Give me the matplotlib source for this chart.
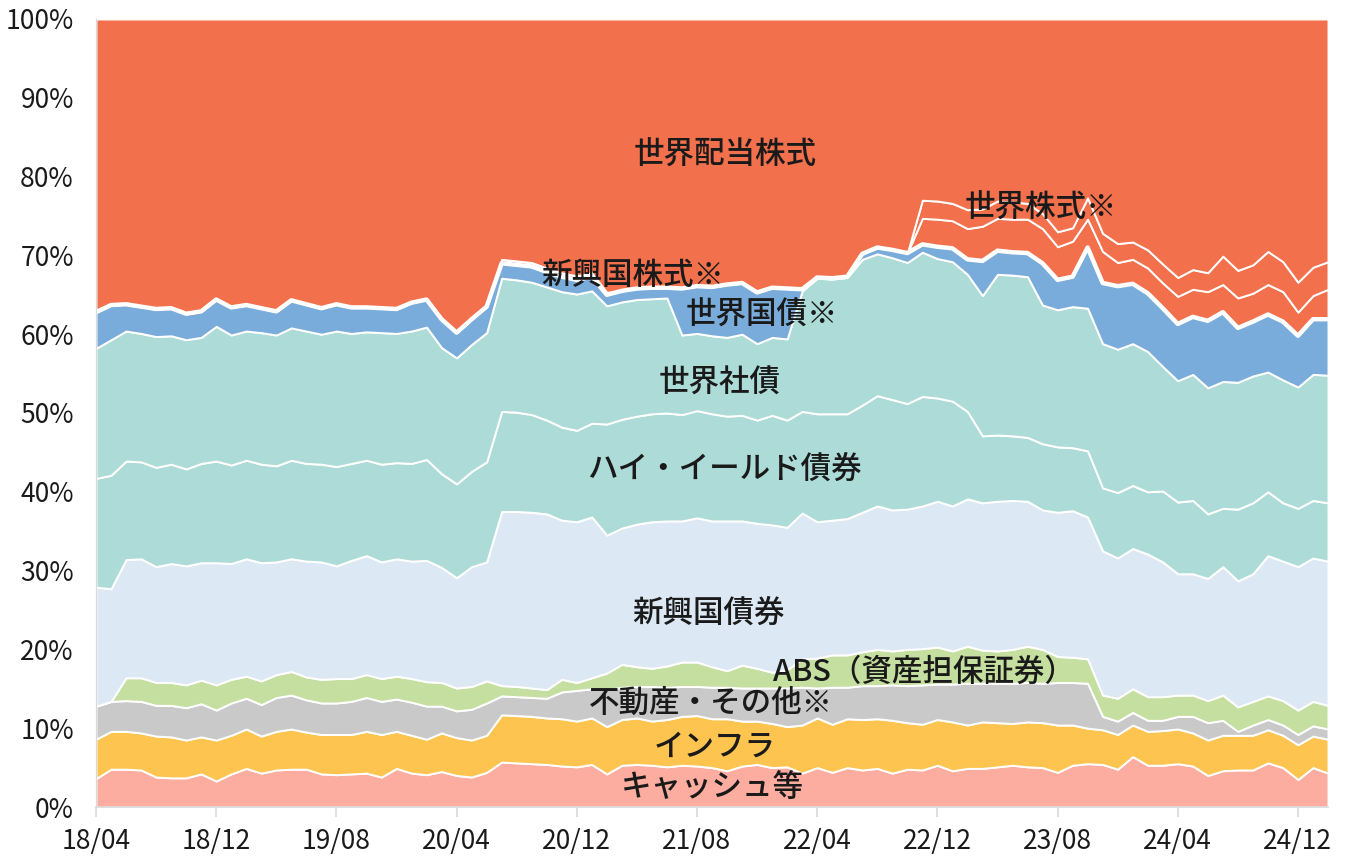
import numpy as np
import matplotlib
matplotlib.use("Agg")
import matplotlib.pyplot as plt

plt.rcParams['font.family'] = ['Noto Sans CJK JP', 'DejaVu Sans']

# monthly shares (%), 2018/04 .. 2025/02
tick_labels = ['18/04', '18/12', '19/08', '20/04', '20/12', '21/08',
               '22/04', '22/12', '23/08', '24/04', '24/12']

cash = [3.6, 4.8, 4.8, 4.7, 3.8, 3.7, 3.7, 4.2, 3.3, 4.2,
        4.9, 4.3, 4.7, 4.8, 4.8, 4.2, 4.1, 4.2, 4.3, 3.8,
        4.9, 4.3, 4.1, 4.5, 4.0, 3.8, 4.4, 5.7, 5.6, 5.5,
        5.4, 5.2, 5.1, 5.4, 4.2, 5.3, 5.4, 5.3, 5.1, 5.3,
        5.2, 5.0, 4.6, 5.2, 5.4, 5.0, 5.1, 4.3, 5.0, 4.4,
        5.0, 4.7, 4.9, 4.3, 4.8, 4.7, 5.3, 4.6, 4.9, 4.9,
        5.1, 5.3, 5.1, 5.0, 4.4, 5.3, 5.5, 5.4, 4.8, 6.4,
        5.3, 5.3, 5.5, 5.2, 4.0, 4.6, 4.7, 4.7, 5.6, 5.0,
        3.5, 5.0, 4.3]
infra = [5.0, 4.8, 4.8, 4.7, 5.2, 5.2, 4.8, 4.7, 5.2, 4.9,
         5.0, 4.7, 4.9, 5.1, 4.7, 5.0, 5.1, 5.0, 5.3, 5.4,
         4.7, 4.8, 4.5, 4.9, 4.8, 4.7, 4.7, 6.0, 6.0, 6.0,
         5.9, 6.0, 5.8, 5.9, 6.0, 5.8, 5.9, 5.6, 6.0, 6.2,
         6.4, 6.2, 6.6, 5.7, 5.5, 5.6, 5.1, 6.1, 6.3, 6.1,
         6.2, 6.4, 6.3, 6.7, 5.9, 5.8, 5.8, 6.2, 5.5, 5.9,
         5.6, 5.3, 5.7, 5.7, 6.0, 5.1, 4.5, 4.4, 4.4, 4.0,
         4.3, 4.4, 4.4, 4.2, 4.5, 4.5, 4.4, 4.4, 4.2, 4.1,
         4.4, 4.0, 4.3]
real_estate = [4.2, 3.8, 3.9, 4.0, 3.9, 4.0, 4.1, 4.2, 3.8, 4.1,
               3.9, 4.0, 4.3, 4.3, 4.1, 4.0, 4.0, 4.2, 4.3, 4.2,
               4.1, 4.2, 4.2, 3.4, 3.4, 3.9, 4.1, 2.4, 2.4, 2.4,
               2.5, 3.4, 3.9, 3.7, 4.7, 4.1, 4.0, 4.4, 4.1, 3.8,
               3.7, 4.0, 4.0, 4.2, 4.2, 4.5, 4.9, 4.8, 3.8, 4.7,
               4.0, 4.3, 4.2, 4.5, 4.7, 5.0, 4.5, 4.8, 5.3, 4.9,
               5.0, 5.1, 5.0, 5.0, 5.4, 5.4, 5.7, 1.7, 1.7, 1.6,
               1.4, 1.3, 1.6, 2.1, 2.2, 1.9, 0.5, 1.3, 1.3, 1.3,
               1.3, 1.3, 1.3]
abs_ = [0.0, 0.0, 2.9, 3.0, 2.9, 2.9, 2.9, 3.0, 3.2, 3.0,
        2.8, 3.0, 2.9, 3.0, 2.9, 3.0, 3.1, 2.9, 2.9, 2.9,
        2.9, 3.0, 3.1, 3.0, 2.9, 2.9, 2.8, 1.3, 1.3, 1.2,
        1.1, 1.6, 1.0, 1.4, 2.1, 2.9, 2.5, 2.3, 2.7, 3.1,
        3.1, 2.6, 2.1, 2.9, 2.5, 2.0, 2.3, 3.6, 3.8, 4.1,
        4.1, 4.3, 4.6, 4.3, 4.6, 4.6, 4.7, 4.2, 4.7, 4.2,
        4.1, 4.3, 4.6, 4.3, 3.3, 3.2, 3.1, 2.7, 2.9, 3.0,
        3.0, 3.0, 2.7, 2.7, 2.8, 3.2, 3.1, 3.0, 3.0, 3.1,
        3.1, 3.1, 3.0]
em_bond = [15.1, 14.3, 15.0, 15.1, 14.7, 15.1, 15.1, 14.9, 15.5, 14.7,
           14.9, 15.0, 14.3, 14.3, 14.7, 14.9, 14.3, 15.0, 15.1, 14.8,
           14.9, 14.9, 15.4, 14.6, 14.0, 15.2, 15.1, 22.1, 22.2, 22.3,
           22.3, 20.2, 20.4, 20.4, 17.5, 17.3, 18.1, 18.6, 18.4, 17.9,
           18.3, 18.5, 19.0, 18.3, 18.4, 18.7, 18.1, 18.5, 17.3, 17.1,
           17.3, 17.7, 18.2, 17.9, 17.8, 18.1, 18.5, 18.4, 18.7, 18.7,
           19.0, 18.9, 18.4, 17.7, 18.3, 18.6, 18.0, 18.3, 17.8, 17.8,
           18.1, 17.1, 15.4, 15.4, 15.5, 16.3, 16.0, 16.2, 17.8, 17.7,
           18.2, 18.2, 18.3]
high_yield = [13.8, 14.4, 12.5, 12.3, 12.6, 12.6, 12.3, 12.6, 12.9, 12.5,
              12.5, 12.5, 12.2, 12.5, 12.4, 12.4, 12.6, 12.3, 12.1, 12.4,
              12.2, 12.4, 12.8, 11.9, 11.9, 12.1, 12.7, 12.7, 12.6, 12.4,
              11.9, 11.8, 11.6, 11.9, 14.1, 13.8, 13.7, 13.7, 13.7, 13.5,
              13.6, 13.6, 13.3, 13.4, 13.1, 13.9, 13.6, 12.9, 13.7, 13.5,
              13.3, 13.6, 14.0, 14.0, 13.4, 13.9, 13.1, 13.3, 11.1, 8.5,
              8.4, 8.2, 8.1, 8.4, 8.3, 8.0, 8.4, 8.0, 8.3, 8.0,
              7.9, 9.0, 9.1, 9.3, 8.2, 7.4, 9.1, 9.0, 8.1, 7.4,
              7.4, 7.3, 7.4]
corp = [16.5, 17.2, 16.5, 16.3, 16.6, 16.3, 16.4, 16.0, 17.1, 16.5,
        16.4, 16.7, 16.6, 16.8, 16.8, 16.5, 17.2, 16.5, 16.3, 16.7,
        16.4, 16.8, 16.8, 16.0, 16.0, 16.1, 16.4, 16.9, 16.8, 16.8,
        16.9, 17.2, 17.3, 16.8, 15.0, 14.9, 14.8, 14.6, 14.6, 10.1,
        9.8, 9.9, 10.0, 10.3, 9.7, 9.9, 10.3, 15.3, 17.2, 17.1,
        17.3, 18.5, 18.0, 18.0, 17.9, 18.3, 17.7, 17.7, 17.4, 17.8,
        20.4, 20.4, 20.4, 17.6, 17.4, 17.9, 18.1, 18.3, 18.2, 18.0,
        17.8, 15.8, 15.4, 16.0, 16.0, 16.1, 16.1, 16.1, 15.2, 15.6,
        15.4, 16.0, 16.2]
govt = [4.6, 4.4, 3.4, 3.4, 3.5, 3.5, 3.3, 3.3, 3.4, 3.5,
        3.3, 3.1, 3.0, 3.5, 3.4, 3.3, 3.4, 3.3, 3.1, 3.1,
        3.1, 3.6, 3.5, 3.6, 3.2, 3.2, 3.3, 1.9, 1.9, 2.0,
        1.9, 1.9, 1.8, 1.8, 1.4, 1.4, 1.4, 1.4, 1.3, 5.9,
        6.0, 6.2, 6.7, 6.5, 6.5, 6.3, 6.4, 0.2, 0.1, 0.1,
        0.1, 0.7, 0.8, 1.0, 1.2, 1.0, 1.5, 1.7, 1.9, 4.4,
        3.0, 2.9, 3.0, 5.3, 3.8, 3.8, 7.7, 7.7, 8.0, 7.6,
        7.4, 7.4, 7.2, 7.3, 8.5, 8.8, 6.9, 6.9, 7.3, 7.4,
        6.5, 7.0, 7.1]
em_equity = [0.0, 0.0, 0.0, 0.0, 0.0, 0.0, 0.0, 0.0, 0.0, 0.0,
             0.0, 0.0, 0.0, 0.0, 0.0, 0.0, 0.0, 0.0, 0.0, 0.0,
             0.0, 0.0, 0.0, 0.0, 0.0, 0.0, 0.0, 0.5, 0.5, 0.5,
             0.5, 0.5, 0.5, 0.5, 0.3, 0.0, 0.0, 0.0, 0.0, 0.0,
             0.0, 0.0, 0.0, 0.0, 0.0, 0.0, 0.0, 0.0, 0.0, 0.0,
             0.0, 0.0, 0.0, 0.0, 0.0, 3.3, 3.5, 3.5, 3.9, 4.4,
             4.1, 4.2, 4.3, 4.4, 4.2, 4.5, 3.6, 4.0, 3.0, 3.1,
             3.2, 3.2, 3.5, 3.5, 3.7, 3.5, 3.8, 3.6, 3.8, 3.8,
             3.0, 3.0, 3.8]
world_equity = [0.0, 0.0, 0.0, 0.0, 0.0, 0.0, 0.0, 0.0, 0.0, 0.0,
                0.0, 0.0, 0.0, 0.0, 0.0, 0.0, 0.0, 0.0, 0.0, 0.0,
                0.0, 0.0, 0.0, 0.0, 0.0, 0.0, 0.0, 0.0, 0.0, 0.0,
                0.0, 0.0, 0.0, 0.0, 0.0, 0.0, 0.0, 0.0, 0.0, 0.0,
                0.0, 0.0, 0.0, 0.0, 0.0, 0.0, 0.0, 0.0, 0.0, 0.0,
                0.0, 0.0, 0.0, 0.0, 0.0, 2.3, 2.3, 2.2, 2.4, 2.2,
                2.2, 2.2, 2.0, 1.9, 1.9, 1.7, 2.7, 2.3, 2.4, 2.2,
                2.3, 2.4, 2.4, 2.5, 2.4, 3.6, 3.5, 3.6, 4.2, 3.8,
                3.8, 3.6, 3.5]

layers = [cash, infra, real_estate, abs_, em_bond, high_yield, corp,
          govt, em_equity, world_equity]
# world dividend equity fills the rest up to 100%
div_equity = 100 - np.sum(layers, axis=0)
layers.append(div_equity)

colors = ['#FCADA0', '#FDC44F', '#C9C9C9', '#C4DF9F', '#DCE8F4',
          '#ADDCD8', '#ADDCD8', '#79ACDA', '#F2704B', '#F2704B', '#F2704B']

x = np.arange(len(cash))

fig = plt.figure(figsize=(13.5, 8.61), dpi=100)
ax = fig.add_axes([96 / 1350, 54 / 861, 1232 / 1350, 788 / 861])

ax.stackplot(x, *layers, colors=colors, edgecolor='white', linewidth=1.4)

# thicker white border on top of the global government bond band
govt_top = np.sum(layers[:8], axis=0)
ax.plot(x, govt_top, color='white', linewidth=3.2)

labels = [
    ('世界配当株式', 41.9, 82.7),
    ('世界株式※', 62.9, 76.0),
    ('新興国株式※', 35.7, 67.4),
    ('世界国債※', 44.3, 62.4),
    ('世界社債', 41.5, 53.8),
    ('ハイ・イールド債券', 41.8, 42.8),
    ('新興国債券', 40.8, 24.6),
    ('ABS（資産担保証券）', 55.1, 17.1),
    ('不動産・その他※', 40.9, 13.2),
    ('インフラ', 41.2, 7.6),
    ('キャッシュ等', 41.0, 2.4),
]
for txt, lx, ly in labels:
    ax.text(lx, ly, txt, ha='center', va='center', fontsize=22,
            fontweight='medium', color='#1a1a1a')

ax.set_xlim(0, len(cash) - 1)
ax.set_ylim(0, 100)
ax.set_xticks(np.arange(0, len(cash), 8))
ax.set_xticklabels(tick_labels)
ax.set_yticks(np.arange(0, 101, 10))
ax.set_yticklabels([f'{v}%' for v in range(0, 101, 10)])

ax.tick_params(axis='x', length=7, width=1.2, color='#D9D9D9', pad=8,
               labelsize=19, labelcolor='#1a1a1a')
ax.tick_params(axis='y', length=0, pad=16, labelsize=19, labelcolor='#1a1a1a')

for side in ['top', 'right']:
    ax.spines[side].set_visible(False)
ax.spines['bottom'].set_color('#D9D9D9')
ax.spines['bottom'].set_linewidth(1.2)
ax.spines['left'].set_color('#D9D9D9')
ax.spines['left'].set_linewidth(0.8)

fig.savefig('out.png', dpi=100)
